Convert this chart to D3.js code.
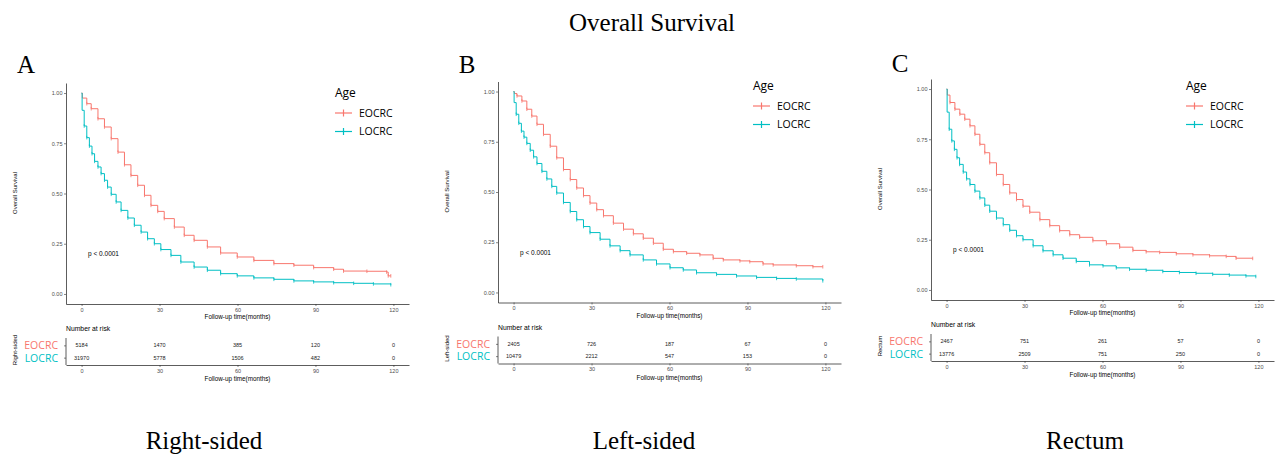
<!DOCTYPE html>
<html>
<head>
<meta charset="utf-8">
<script src="https://cdn.jsdelivr.net/npm/d3@7"></script>
<style>
  body { margin: 0; background: #fff; }
  svg { display: block; }
</style>
</head>
<body>
<script>
// survival curves (months, survival probability)
var monthsA_eo = [0, 0.3, 2, 3.7, 6.3, 8.8, 11.4, 14, 16.5, 19, 21.6, 24.2, 26.7, 29.3, 31.8, 35.7, 39.5, 43.3, 48.4, 53.5, 59.9, 66.3, 74, 81.7, 89.3, 97, 100.8, 109.8, 117.4, 118, 119];
var survA_eo   = [1, 0.975, 0.947, 0.922, 0.872, 0.831, 0.773, 0.706, 0.643, 0.59, 0.541, 0.491, 0.441, 0.411, 0.375, 0.333, 0.292, 0.267, 0.234, 0.204, 0.184, 0.167, 0.151, 0.143, 0.131, 0.123, 0.114, 0.113, 0.109, 0.09, 0.09];
var monthsA_lo = [0, 0.2, 1, 2, 3, 4, 5, 6.3, 7.5, 8.8, 10, 11.4, 13.3, 15.2, 17.8, 20.3, 22.9, 25.4, 28, 30.5, 34.4, 38.2, 43.3, 48.4, 53.5, 59.9, 66.3, 74, 81.7, 89.3, 97, 104.7, 112.3, 119];
var survA_lo   = [1, 0.914, 0.836, 0.778, 0.736, 0.698, 0.66, 0.632, 0.599, 0.566, 0.532, 0.496, 0.458, 0.416, 0.378, 0.342, 0.308, 0.275, 0.25, 0.221, 0.192, 0.159, 0.134, 0.118, 0.101, 0.09, 0.08, 0.073, 0.065, 0.06, 0.056, 0.053, 0.05, 0.046];

var monthsB_eo = [0, 0.3, 1.3, 3.2, 5.1, 7, 9, 11.5, 14.1, 16.6, 19.2, 21.8, 24.3, 26.9, 29.4, 32, 34.6, 38.4, 42.3, 46.1, 49.9, 53.8, 57.6, 61.5, 66.6, 71.7, 76.8, 80.7, 87.1, 90.9, 96, 99.9, 108.8, 115.2, 119];
var survB_eo   = [1, 0.99, 0.978, 0.953, 0.912, 0.878, 0.837, 0.787, 0.728, 0.67, 0.612, 0.562, 0.52, 0.482, 0.445, 0.412, 0.382, 0.345, 0.315, 0.292, 0.27, 0.245, 0.215, 0.203, 0.195, 0.187, 0.17, 0.162, 0.157, 0.153, 0.142, 0.137, 0.133, 0.128, 0.128];
var monthsB_lo = [0, 0.2, 1, 2, 3, 4, 5.1, 6.4, 7.7, 9, 10.9, 12.8, 14.7, 16.6, 19.2, 21.8, 24.3, 26.9, 29.4, 33.3, 37.1, 41, 44.8, 49.9, 55, 60.2, 65.3, 70.4, 78.1, 85.8, 93.5, 101.2, 108.8, 119];
var survB_lo   = [1, 0.945, 0.887, 0.842, 0.803, 0.773, 0.742, 0.708, 0.675, 0.642, 0.603, 0.565, 0.528, 0.495, 0.448, 0.403, 0.362, 0.328, 0.298, 0.265, 0.232, 0.208, 0.187, 0.162, 0.142, 0.123, 0.112, 0.098, 0.09, 0.082, 0.075, 0.07, 0.067, 0.058];

var monthsC_eo = [0, 0.3, 1.3, 3.2, 5.1, 7, 9, 10.9, 12.8, 14.7, 16.6, 19.2, 21.8, 24.3, 26.9, 29.4, 32, 35.9, 39.7, 43.5, 47.4, 51.2, 56.3, 61.5, 66.6, 71.7, 76.8, 82, 88.4, 94.8, 101.2, 107.6, 111.4, 117.8];
var survC_eo   = [1, 0.97, 0.933, 0.9, 0.875, 0.85, 0.817, 0.775, 0.725, 0.683, 0.633, 0.575, 0.525, 0.483, 0.45, 0.417, 0.387, 0.35, 0.32, 0.295, 0.275, 0.262, 0.245, 0.23, 0.213, 0.197, 0.19, 0.187, 0.18, 0.175, 0.17, 0.167, 0.158, 0.157];
var monthsC_lo = [0, 0.2, 1, 2, 3, 4, 5, 6.4, 7.7, 9, 10.9, 12.8, 14.7, 16.6, 19.2, 21.8, 24.3, 26.9, 29.4, 33.3, 37.1, 41, 44.8, 49.9, 55, 60.2, 65.3, 70.4, 76.8, 83.2, 89.6, 96, 102.4, 108.8, 115.2, 119];
var survC_lo   = [1, 0.885, 0.8, 0.742, 0.7, 0.658, 0.625, 0.587, 0.553, 0.525, 0.492, 0.458, 0.422, 0.392, 0.358, 0.325, 0.297, 0.27, 0.25, 0.22, 0.195, 0.175, 0.158, 0.142, 0.125, 0.12, 0.11, 0.103, 0.098, 0.092, 0.087, 0.083, 0.078, 0.074, 0.07, 0.067];

// number at risk
var riskTimes = [0, 30, 60, 90, 120];
var riskA_eo = [5184, 1470, 385, 120, 0];
var riskA_lo = [31970, 5778, 1506, 482, 0];
var riskB_eo = [2405, 726, 187, 67, 0];
var riskB_lo = [10479, 2212, 547, 153, 0];
var riskC_eo = [2467, 751, 261, 57, 0];
var riskC_lo = [13776, 2509, 751, 250, 0];

var groups = ["EOCRC", "LOCRC"];
var survTicks = [0, 0.25, 0.5, 0.75, 1];
var panelLetters = ["A", "B", "C"];
var panelSites = ["Right-sided", "Left-sided", "Rectum"];
var pLabel = "p < 0.0001";

var colors = { EOCRC: "#F8766D", LOCRC: "#00BFC4" };
var width = 1280, height = 454;
var pw = 343, ph = 221;
var small = "'Liberation Sans', Arial, sans-serif";
var serif = "'Liberation Serif', 'Times New Roman', serif";
var legendFont = "'Open Sans', 'Noto Sans', sans-serif";

// layout of each panel (axis box origin, legend position)
var layout = [
  { ox: 66,  oy: 83,   lx: 335,  ly: 93, letterX: 26,  letterY: 73, capX: 204 },
  { ox: 498, oy: 81.5, lx: 753,  ly: 86, letterX: 467, letterY: 73, capX: 644 },
  { ox: 931, oy: 79,   lx: 1186, ly: 86, letterX: 900, letterY: 72, capX: 1085 }
];

var panels = [
  { eo: [monthsA_eo, survA_eo], lo: [monthsA_lo, survA_lo], risk: { EOCRC: riskA_eo, LOCRC: riskA_lo } },
  { eo: [monthsB_eo, survB_eo], lo: [monthsB_lo, survB_lo], risk: { EOCRC: riskB_eo, LOCRC: riskB_lo } },
  { eo: [monthsC_eo, survC_eo], lo: [monthsC_lo, survC_lo], risk: { EOCRC: riskC_eo, LOCRC: riskC_lo } }
];

var svg = d3.select("body").append("svg")
  .attr("width", width)
  .attr("height", height);

svg.append("rect").attr("width", width).attr("height", height).attr("fill", "#fff");

// main title
svg.append("text")
  .attr("x", 652).attr("y", 31)
  .attr("text-anchor", "middle")
  .style("font-family", serif).style("font-size", "25px")
  .text("Overall Survival");

function styleAxis(g) {
  g.select(".domain").attr("stroke", "#333").attr("stroke-width", 0.8);
  g.selectAll(".tick line").attr("stroke", "#333").attr("stroke-width", 0.6);
  g.selectAll(".tick text")
    .attr("fill", "#4d4d4d")
    .style("font-family", small).style("font-size", "5.5px");
}

panels.forEach(function(p, i) {
  var L = layout[i];
  var g = svg.append("g");

  var x = d3.scaleLinear().domain([-6, 126]).range([L.ox, L.ox + pw]);
  var y = d3.scaleLinear().domain([-0.05, 1.05]).range([L.oy + ph, L.oy]);

  // panel letter and caption
  svg.append("text")
    .attr("x", L.letterX).attr("y", L.letterY)
    .attr("text-anchor", "middle")
    .style("font-family", serif).style("font-size", "25px")
    .text(panelLetters[i]);
  svg.append("text")
    .attr("x", L.capX).attr("y", 449)
    .attr("text-anchor", "middle")
    .style("font-family", serif).style("font-size", "25px")
    .text(panelSites[i]);

  // axes
  var yAxis = g.append("g")
    .attr("transform", "translate(" + L.ox + ",0)")
    .call(d3.axisLeft(y).tickValues(survTicks).tickFormat(d3.format(".2f")).tickSize(2).tickSizeOuter(0).tickPadding(1.5));
  styleAxis(yAxis);
  var xAxis = g.append("g")
    .attr("transform", "translate(0," + (L.oy + ph) + ")")
    .call(d3.axisBottom(x).tickValues(riskTimes).tickSize(2).tickSizeOuter(0).tickPadding(2));
  styleAxis(xAxis);

  g.append("text")
    .attr("transform", "translate(" + (L.ox - 51) + "," + (L.oy + 110) + ") rotate(-90)")
    .attr("text-anchor", "middle").attr("dy", "0.35em")
    .style("font-family", small).style("font-size", "6px")
    .text("Overall Survival");
  g.append("text")
    .attr("x", L.ox + pw / 2).attr("y", L.oy + 234)
    .attr("text-anchor", "middle").attr("dy", "0.35em")
    .style("font-family", small).style("font-size", "6.3px")
    .text("Follow-up time(months)");

  // curves
  var line = d3.line()
    .x(function(d) { return x(d[0]); })
    .y(function(d) { return y(d[1]); })
    .curve(d3.curveStepAfter);

  [["EOCRC", p.eo], ["LOCRC", p.lo]].forEach(function(s) {
    var pts = s[1][0].map(function(t, k) { return [t, s[1][1][k]]; });
    g.append("path")
      .datum(pts)
      .attr("d", line)
      .attr("fill", "none")
      .attr("stroke", colors[s[0]])
      .attr("stroke-width", 1);
    // censor marks
    g.selectAll(null)
      .data(pts.slice(2))
      .enter().append("line")
      .attr("x1", function(d) { return x(d[0]); })
      .attr("x2", function(d) { return x(d[0]); })
      .attr("y1", function(d) { return y(d[1]) - 1.8; })
      .attr("y2", function(d) { return y(d[1]) + 1.8; })
      .attr("stroke", colors[s[0]])
      .attr("stroke-width", 0.8);
  });

  // p value
  g.append("text")
    .attr("x", x(2.5)).attr("y", y(0.2))
    .attr("dy", "0.35em")
    .style("font-family", small).style("font-size", "6.5px")
    .text(pLabel);

  // legend
  var lg = g.append("g");
  lg.append("text")
    .attr("x", L.lx).attr("y", L.ly).attr("dy", "0.35em")
    .style("font-family", legendFont).style("font-size", "12px")
    .text("Age");
  groups.forEach(function(name, k) {
    var yy = L.ly + 20 + k * 18.5;
    lg.append("line")
      .attr("x1", L.lx).attr("x2", L.lx + 17)
      .attr("y1", yy).attr("y2", yy)
      .attr("stroke", colors[name]).attr("stroke-width", 1.2);
    lg.append("line")
      .attr("x1", L.lx + 8.5).attr("x2", L.lx + 8.5)
      .attr("y1", yy - 3.5).attr("y2", yy + 3.5)
      .attr("stroke", colors[name]).attr("stroke-width", 1.2);
    lg.append("text")
      .attr("x", L.lx + 24).attr("y", yy).attr("dy", "0.35em")
      .style("font-family", legendFont).style("font-size", "10.5px")
      .text(name);
  });

  // number at risk table
  var tTop = L.oy + 255, tBot = L.oy + 282;
  var yr = d3.scalePoint().domain(groups).range([tTop, tBot]).padding(0.6);

  g.append("text")
    .attr("x", L.ox).attr("y", L.oy + 246).attr("dy", "0.35em")
    .style("font-family", small).style("font-size", "6.8px")
    .text("Number at risk");

  var ryAxis = g.append("g")
    .attr("transform", "translate(" + L.ox + ",0)")
    .call(d3.axisLeft(yr).tickSize(2).tickSizeOuter(0).tickPadding(6));
  styleAxis(ryAxis);
  ryAxis.select(".domain").attr("d", "M0," + tTop + "V" + tBot);
  ryAxis.selectAll(".tick text")
    .attr("fill", function(d) { return colors[d]; })
    .style("font-family", legendFont).style("font-size", "10.5px");

  var rxAxis = g.append("g")
    .attr("transform", "translate(0," + tBot + ")")
    .call(d3.axisBottom(x).tickValues(riskTimes).tickSize(2).tickSizeOuter(0).tickPadding(2));
  styleAxis(rxAxis);

  groups.forEach(function(name) {
    g.selectAll(null)
      .data(p.risk[name])
      .enter().append("text")
      .attr("x", function(d, k) { return x(riskTimes[k]); })
      .attr("y", yr(name)).attr("dy", "0.35em")
      .attr("text-anchor", "middle")
      .style("font-family", small).style("font-size", "5.5px")
      .attr("fill", "#222")
      .text(function(d) { return d; });
  });

  g.append("text")
    .attr("x", L.ox + pw / 2).attr("y", tBot + 14)
    .attr("text-anchor", "middle").attr("dy", "0.35em")
    .style("font-family", small).style("font-size", "6.3px")
    .text("Follow-up time(months)");

  g.append("text")
    .attr("transform", "translate(" + (L.ox - 51) + "," + (L.oy + 267) + ") rotate(-90)")
    .attr("text-anchor", "middle").attr("dy", "0.35em")
    .style("font-family", small).style("font-size", "6px")
    .text(panelSites[i]);
});
</script>
</body>
</html>
